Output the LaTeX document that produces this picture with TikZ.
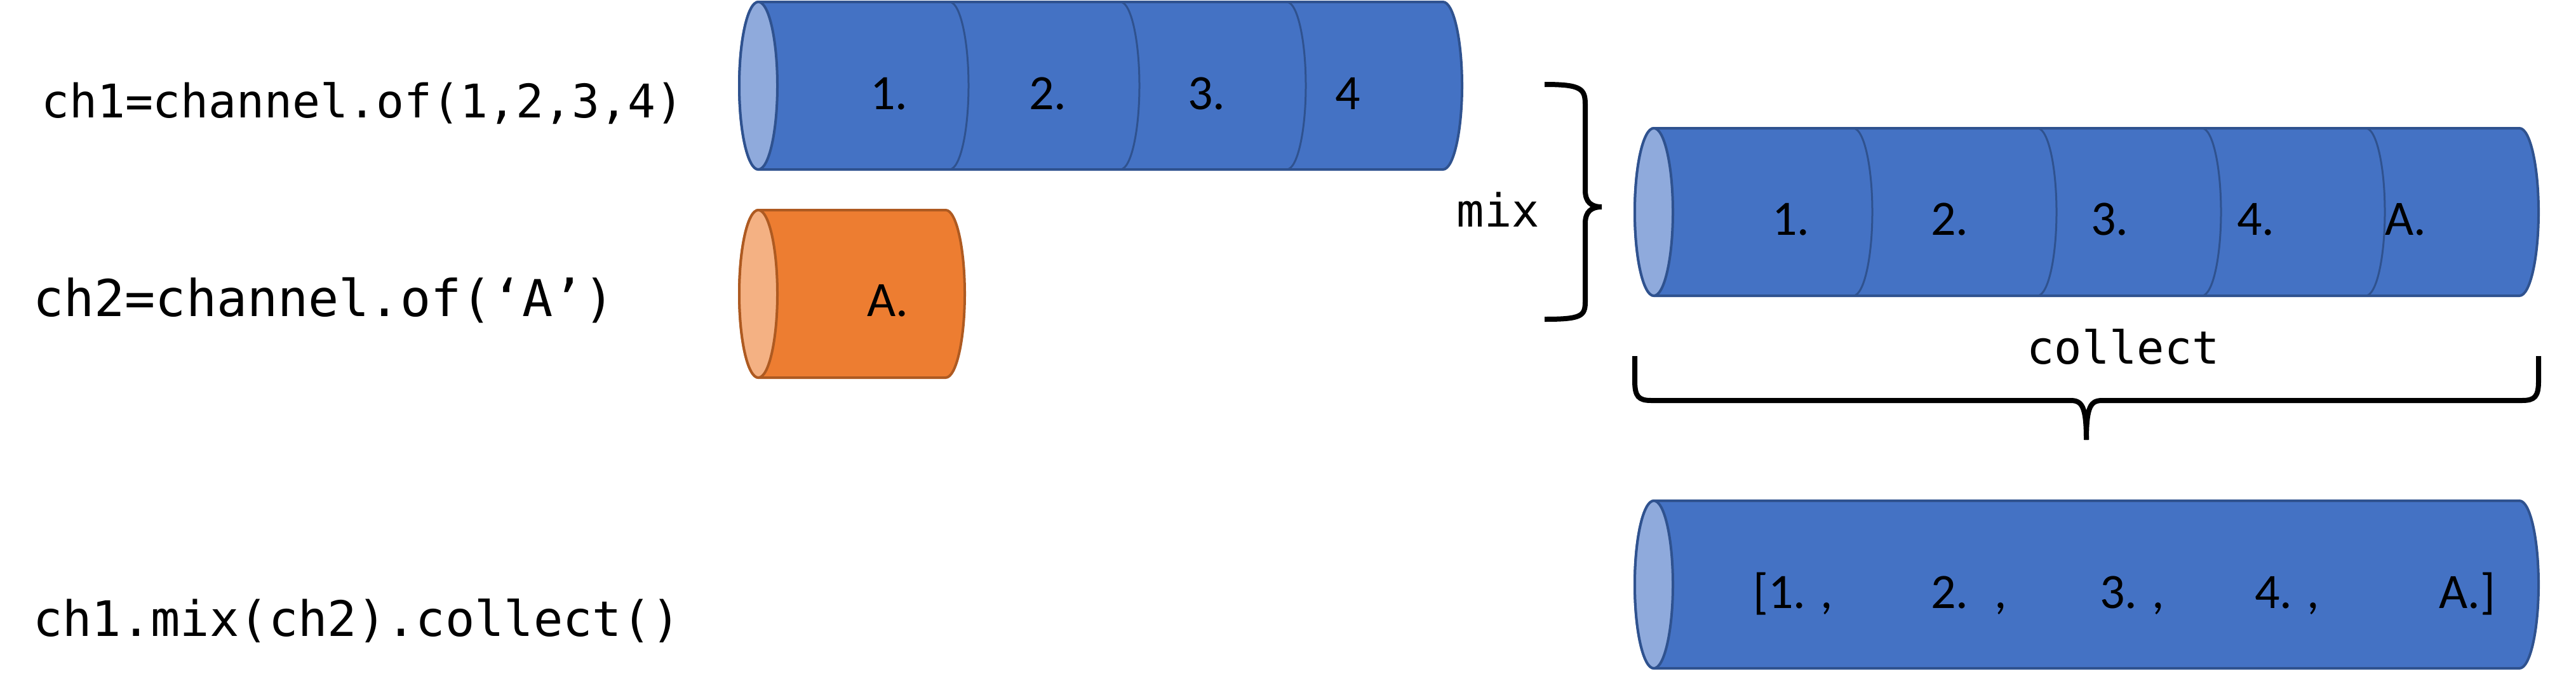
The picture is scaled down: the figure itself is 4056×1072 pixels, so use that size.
\documentclass[tikz,border=0pt]{standalone}
\usepackage{fontspec}
\setmainfont{Carlito}
\newfontfamily\codefont{DejaVu Sans Mono}
\definecolor{bfill}{HTML}{4472C4}
\definecolor{bdraw}{HTML}{2F528F}
\definecolor{blight}{HTML}{8FAADC}
\definecolor{ofill}{HTML}{ED7D31}
\definecolor{odraw}{HTML}{AE5A21}
\definecolor{olight}{HTML}{F4B183}
% #1 left center x, #2 right center x, #3 mid y, #4 fill, #5 stroke, #6 light
\newcommand\mycyl[6]{%
  \filldraw[fill=#4,draw=#5,line width=4pt] (#1,#3+132) -- (#2,#3+132)
    arc[start angle=90,end angle=-90,x radius=30pt,y radius=132pt] -- (#1,#3-132)
    arc[start angle=-90,end angle=-270,x radius=30pt,y radius=132pt] -- cycle;
  \filldraw[fill=#6,draw=#5,line width=4pt] (#1,#3) ellipse[x radius=30pt,y radius=132pt];}
\newcommand\mydiv[3]{%
  \draw[draw=#3,line width=3pt] (#1,#2+132) arc[start angle=90,end angle=-90,x radius=30pt,y radius=132pt];}
\tikzset{code/.style={font=\codefont, inner sep=0, anchor=west},
  lab/.style={font=\fontsize{78}{84}\selectfont, inner sep=0, anchor=base west},
  bracel/.style={line width=8pt}}
\begin{document}
\begin{tikzpicture}[x=1pt,y=1pt]
\useasboundingbox (0,0) rectangle (4056,-1072);
% left code
\node[code,font=\codefont\fontsize{73}{80}\selectfont] (c1) at (65,-163) {ch1=channel.of(1,2,3,4)};
\node[code,font=\codefont\fontsize{80}{88}\selectfont] (c2) at (52,-473) {ch2=channel.of(‘A’)};
\node[code,font=\codefont\fontsize{77}{84}\selectfont] (c3) at (52,-978) {ch1.mix(ch2).collect()};
% cyl1
\mycyl{1194}{2272}{-135}{bfill}{bdraw}{blight}
\mydiv{1495}{-135}{bdraw}\mydiv{1764}{-135}{bdraw}\mydiv{2026}{-135}{bdraw}
\node[lab] (a1) at (1370,-172) {1.};
\node[lab] (a2) at (1620,-172) {2.};
\node[lab] (a3) at (1870,-172) {3.};
\node[lab] (a4) at (2102,-172) {4};
% orange
\mycyl{1194}{1489}{-463}{ofill}{odraw}{olight}
\node[lab] (oa) at (1365,-498) {A.};
% mix brace
\coordinate (m1) at (2432,-133);
\coordinate (m2) at (2432,-503);
\coordinate (mt) at (2522,-326);
\draw[bracel] (m1) .. controls (2490,-133) and (2496,-140) .. (2496,-165) -- (2496,-300)
  .. controls (2496,-318) and (2505,-326) .. (mt)
  .. controls (2505,-326) and (2496,-334) .. (2496,-352) -- (2496,-475)
  .. controls (2496,-498) and (2490,-503) .. (m2);
\node[code,font=\codefont\fontsize{72}{80}\selectfont,anchor=east] (mix) at (2424,-330) {mix};
% mixed cyl
\mycyl{2604}{3967}{-334}{bfill}{bdraw}{blight}
\mydiv{2918}{-334}{bdraw}\mydiv{3208}{-334}{bdraw}\mydiv{3467}{-334}{bdraw}\mydiv{3725}{-334}{bdraw}
\node[lab] (b1) at (2790,-370) {1.};
\node[lab] (b2) at (3040,-370) {2.};
\node[lab] (b3) at (3292,-370) {3.};
\node[lab] (b4) at (3522,-370) {4.};
\node[lab] (b5) at (3755,-370) {A.};
% collect
\node[code,font=\codefont\fontsize{72}{80}\selectfont,anchor=center] (col) at (3343,-546) {collect};
\coordinate (k1) at (2574,-561);
\coordinate (k2) at (3997,-561);
\coordinate (kt) at (3285,-693);
\draw[bracel] (k1) -- (2574,-600) .. controls (2574,-625) and (2580,-631) .. (2600,-631) -- (3260,-631)
  .. controls (3278,-631) and (3285,-640) .. (kt);
\draw[bracel] (k2) -- (3997,-600) .. controls (3997,-625) and (3991,-631) .. (3971,-631) -- (3310,-631)
  .. controls (3292,-631) and (3285,-640) .. (kt);
% bottom cyl
\mycyl{2604}{3967}{-921}{bfill}{bdraw}{blight}
\node[lab] (r1) at (2760,-958) {[1. ,};
\node[lab] (r2) at (3040,-958) {2. \ ,};
\node[lab] (r3) at (3306,-958) {3. ,};
\node[lab] (r4) at (3550,-958) {4. ,};
\node[lab] (r5) at (3840,-958) {A.]};
\end{tikzpicture}
\end{document}
